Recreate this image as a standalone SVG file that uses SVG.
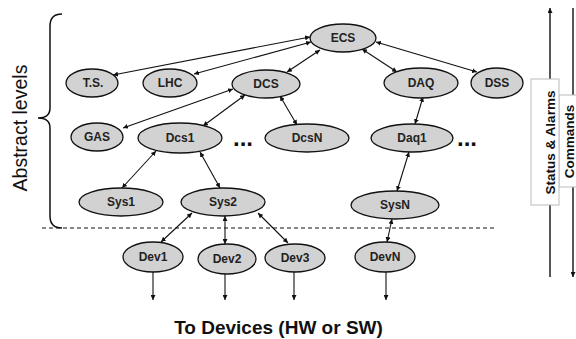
<svg xmlns="http://www.w3.org/2000/svg" width="576" height="339" viewBox="0 0 576 339">
  <style>
    .node ellipse { fill: #d2d2d2; stroke: #111; stroke-width: 1.3; }
    .node text { font-family: "Liberation Sans", Arial, sans-serif; font-weight: bold; font-size: 12px; fill: #222; text-anchor: middle; }
    .link { stroke: #111; stroke-width: 1.1; fill: none; marker-start: url(#head); marker-end: url(#head); }
    .down { stroke: #111; stroke-width: 1.1; fill: none; marker-end: url(#head); }
    .dots { font-family: "Liberation Sans", Arial, sans-serif; font-weight: bold; font-size: 24px; fill: #111; }
    .side { font-family: "Liberation Sans", Arial, sans-serif; font-weight: bold; font-size: 13.5px; fill: #111; text-anchor: middle; }
    .label { font-family: "Liberation Sans", Arial, sans-serif; fill: #111; }
  </style>
  <defs>
    <marker id="head" viewBox="0 0 6 6" refX="6" refY="3" markerWidth="5" markerHeight="5" markerUnits="userSpaceOnUse" orient="auto-start-reverse">
      <path d="M0,0 L6,3 L0,6 z" fill="#111"/>
    </marker>
  </defs>
  <rect width="576" height="339" fill="#fff"/>

  <!-- brace and level label -->
  <path d="M62,14 C54,14 50,18 50,26 L50,108 C50,114 46,118 38,118 C46,118 50,122 50,128 L50,216 C50,224 54,228 62,228" fill="none" stroke="#111" stroke-width="1.5"/>
  <text class="label" transform="translate(27,128) rotate(-90)" font-size="19.5" text-anchor="middle">Abstract levels</text>

  <!-- boundary between controls and devices -->
  <line x1="42" y1="228" x2="497" y2="228" stroke="#111" stroke-width="1" stroke-dasharray="4,3"/>

  <!-- connectors -->
  <g id="connectors">
    <line class="link" x1="310" y1="37" x2="113" y2="75"/>
    <line class="link" x1="311" y1="42" x2="194" y2="74"/>
    <line class="link" x1="320" y1="50" x2="287" y2="72"/>
    <line class="link" x1="362" y1="49" x2="397" y2="72"/>
    <line class="link" x1="376" y1="42" x2="477" y2="72"/>
    <line class="link" x1="123" y1="128" x2="233" y2="89"/>
    <line class="link" x1="203" y1="126" x2="245" y2="95"/>
    <line class="link" x1="280" y1="96" x2="297" y2="125"/>
    <line class="link" x1="423" y1="97" x2="415" y2="124"/>
    <line class="link" x1="156" y1="151" x2="122" y2="188"/>
    <line class="link" x1="200" y1="152" x2="220" y2="188"/>
    <line class="link" x1="409" y1="152" x2="397" y2="191"/>
    <line class="link" x1="192" y1="213" x2="161" y2="242"/>
    <line class="link" x1="225" y1="216" x2="225" y2="244"/>
    <line class="link" x1="258" y1="213" x2="288" y2="243"/>
    <line class="link" x1="392" y1="219" x2="387" y2="242"/>
    <line class="down" x1="153" y1="272" x2="153" y2="300"/>
    <line class="down" x1="225" y1="274" x2="225" y2="300"/>
    <line class="down" x1="294" y1="272" x2="294" y2="300"/>
    <line class="down" x1="386" y1="272" x2="386" y2="300"/>
  </g>

  <!-- nodes -->
  <g id="ECS" class="node"><ellipse cx="343" cy="38" rx="33" ry="14"/><text x="343" y="42.3">ECS</text></g>
  <g id="TS" class="node"><ellipse cx="92" cy="83" rx="26" ry="14"/><text x="93" y="87.3">T.S.</text></g>
  <g id="LHC" class="node"><ellipse cx="170" cy="83" rx="27" ry="14"/><text x="170" y="87.3">LHC</text></g>
  <g id="DCS" class="node"><ellipse cx="266" cy="84" rx="34" ry="14"/><text x="266" y="88.3">DCS</text></g>
  <g id="DAQ" class="node"><ellipse cx="421" cy="83" rx="37" ry="15"/><text x="421" y="87.3">DAQ</text></g>
  <g id="DSS" class="node"><ellipse cx="497" cy="83" rx="26" ry="15"/><text x="497" y="87.3">DSS</text></g>
  <g id="GAS" class="node"><ellipse cx="97" cy="137" rx="26" ry="14"/><text x="97" y="141.3">GAS</text></g>
  <g id="Dcs1" class="node"><ellipse cx="180" cy="138" rx="42" ry="15"/><text x="180" y="142.3">Dcs1</text></g>
  <g id="DcsN" class="node"><ellipse cx="307" cy="138" rx="42" ry="14"/><text x="307" y="142.3">DcsN</text></g>
  <g id="Daq1" class="node"><ellipse cx="412" cy="138" rx="41" ry="14"/><text x="412" y="142.3">Daq1</text></g>
  <g id="Sys1" class="node"><ellipse cx="121" cy="202" rx="42" ry="14"/><text x="121" y="206.3">Sys1</text></g>
  <g id="Sys2" class="node"><ellipse cx="223" cy="202" rx="42" ry="14"/><text x="223" y="206.3">Sys2</text></g>
  <g id="SysN" class="node"><ellipse cx="395" cy="205" rx="44" ry="14"/><text x="395" y="209.3">SysN</text></g>
  <g id="Dev1" class="node"><ellipse cx="153" cy="257" rx="30" ry="15"/><text x="153" y="261.3">Dev1</text></g>
  <g id="Dev2" class="node"><ellipse cx="227" cy="259" rx="29" ry="15"/><text x="227" y="263.3">Dev2</text></g>
  <g id="Dev3" class="node"><ellipse cx="295" cy="258" rx="30" ry="14"/><text x="295" y="262.3">Dev3</text></g>
  <g id="DevN" class="node"><ellipse cx="385" cy="257" rx="30" ry="15"/><text x="385" y="261.3">DevN</text></g>

  <!-- ellipsis marks -->
  <text class="dots" x="233" y="146">...</text>
  <text class="dots" x="457" y="146">...</text>

  <!-- status / command flows -->
  <g id="flows">
    <line x1="550" y1="277" x2="550" y2="8" stroke="#111" stroke-width="1.4" marker-end="url(#head)"/>
    <line x1="573" y1="8" x2="573" y2="277" stroke="#111" stroke-width="1.4" marker-end="url(#head)"/>
    <rect x="559" y="95" width="20" height="92" fill="#fff" stroke="#bbb" stroke-width="1"/>
    <rect x="531" y="79" width="28" height="126" fill="#fff" stroke="#bbb" stroke-width="1"/>
    <text class="side" transform="translate(555,142.5) rotate(-90)">Status &amp; Alarms</text>
    <text class="side" transform="translate(573.5,141.5) rotate(-90)">Commands</text>
  </g>

  <text class="label" x="278.5" y="334" font-size="19" font-weight="bold" text-anchor="middle">To Devices (HW or SW)</text>
</svg>
